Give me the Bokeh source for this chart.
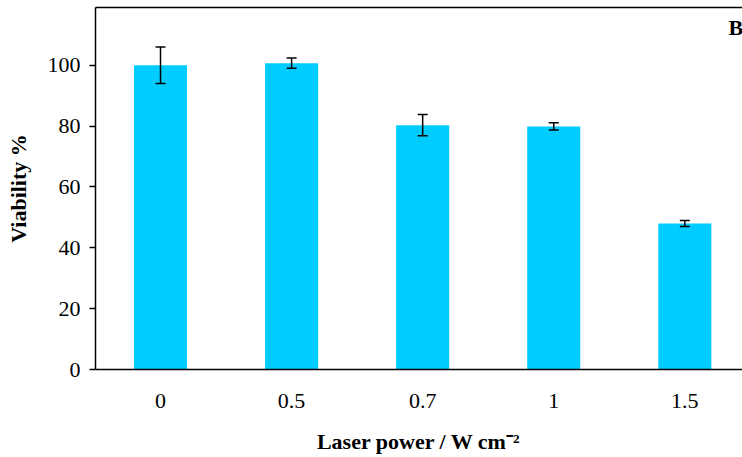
from bokeh.plotting import figure
from bokeh.models import (ColumnDataSource, Whisker, TeeHead, FixedTicker, Label,
                          LinearAxis, Range1d)
from bokeh.embed import file_html
from bokeh.resources import INLINE

# Data
powers = ["0", "0.5", "0.7", "1", "1.5"]
viability = [100.0, 100.7, 80.3, 79.9, 48.0]
errors = [6.0, 1.7, 3.5, 1.2, 1.0]
y_ticks = [0, 20, 40, 60, 80, 100]

xs = list(range(len(powers)))
src = ColumnDataSource(dict(
    x=xs, top=viability,
    upper=[v + e for v, e in zip(viability, errors)],
    lower=[v - e for v, e in zip(viability, errors)],
))

FONT = "Liberation Serif"
FS = "22px"

p = figure(width=742, height=457, output_backend="svg", toolbar_location=None,
           x_range=Range1d(-0.496, 4.44), y_range=Range1d(0, 119))
p.min_border_left = 95
p.min_border_bottom = 88
p.min_border_top = 7
p.min_border_right = 0
p.outline_line_color = None
p.grid.visible = False
p.background_fill_color = "white"

p.vbar(x="x", top="top", width=0.405, source=src, color="#00CCFF", line_color=None)

w = Whisker(source=src, base="x", upper="upper", lower="lower", level="overlay",
            line_color="black", line_width=1.5,
            upper_head=TeeHead(size=10, line_color="black", line_width=1.5),
            lower_head=TeeHead(size=10, line_color="black", line_width=1.5))
p.add_layout(w)

# X axis
p.xaxis.ticker = FixedTicker(ticks=xs)
p.xaxis.major_label_overrides = {i: s for i, s in enumerate(powers)}
p.xaxis.major_tick_line_color = None
p.xaxis.minor_tick_line_color = None
p.xaxis.axis_line_width = 1.5
p.xaxis.axis_line_color = "black"
p.xaxis.major_label_standoff = 18
p.xaxis.major_label_text_font = FONT
p.xaxis.major_label_text_font_size = FS
p.xaxis.major_label_text_color = "black"
p.xaxis.axis_label = "Laser power / W cm\u207b\u00b2"
p.xaxis.axis_label_text_font = FONT
p.xaxis.axis_label_text_font_style = "bold"
p.xaxis.axis_label_text_font_size = FS
p.xaxis.axis_label_text_color = "black"
p.xaxis.axis_label_standoff = 18

# Y axis
p.yaxis.ticker = FixedTicker(ticks=y_ticks)
p.yaxis.major_tick_in = 0
p.yaxis.major_tick_out = 6
p.yaxis.major_tick_line_width = 1.5
p.yaxis.minor_tick_line_color = None
p.yaxis.axis_line_width = 1.5
p.yaxis.axis_line_color = "black"
p.yaxis.major_label_text_font = FONT
p.yaxis.major_label_text_font_size = FS
p.yaxis.major_label_text_color = "black"
p.yaxis.major_label_standoff = 9
p.yaxis.axis_label = "Viability %"
p.yaxis.axis_label_text_font = FONT
p.yaxis.axis_label_text_font_style = "bold"
p.yaxis.axis_label_text_font_size = FS
p.yaxis.axis_label_text_color = "black"
p.yaxis.axis_label_standoff = 14

# Top frame line
top_ax = LinearAxis(major_tick_line_color=None, minor_tick_line_color=None,
                    major_label_text_font_size="0px", axis_line_width=1.5,
                    axis_line_color="black", ticker=FixedTicker(ticks=[]))
p.add_layout(top_ax, "above")

p.add_layout(Label(x=4.44, y=112.3, x_offset=-14, text="B", text_font=FONT,
                   text_font_style="bold", text_font_size=FS,
                   text_color="black", text_align="left", text_baseline="middle"))

open("out.html", "w").write(file_html(p, INLINE))
